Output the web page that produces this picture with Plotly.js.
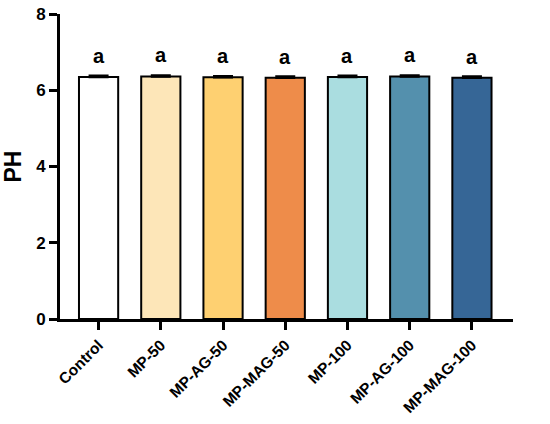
<!DOCTYPE html>
<html><head><meta charset="utf-8">
<script src="https://cdn.plot.ly/plotly-3.0.1.min.js"></script>
<style>html,body{margin:0;padding:0;background:#fff}#c{width:550px;height:424px}</style>
</head><body><div id="c"></div>
<script>
const categories = ["Control","MP-50","MP-AG-50","MP-MAG-50","MP-100","MP-AG-100","MP-MAG-100"];
const phValues = [6.35, 6.36, 6.34, 6.33, 6.35, 6.36, 6.33];
const phErrors = [0.03, 0.03, 0.03, 0.03, 0.03, 0.03, 0.03];
const sigLetters = ["a","a","a","a","a","a","a"];
const yTicks = [0, 2, 4, 6, 8];
const barColors = ["#FFFFFF","#FDE6B8","#FED071","#EE8C4A","#AADDE0","#5490AD","#366696"];

const font = "Liberation Sans, Arial, sans-serif";
const trace = {
  type: "bar", x: categories, y: phValues,
  marker: {color: barColors, line: {color: "#000", width: 2}},
  width: 0.63,
  error_y: {type: "data", array: phErrors, visible: true, color: "#000", thickness: 2.5, width: 10, symmetric: false, arrayminus: phErrors.map(()=>0)},
  hoverinfo: "skip"
};
const annotations = categories.map((c,i)=>({
  x: c, y: phValues[i] + phErrors[i], text: "<b>"+sigLetters[i]+"</b>", showarrow: false,
  yanchor: "bottom", yshift: 7, font: {family: font, size: 20, color: "#000"}
}));
const layout = {
  width: 550, height: 424,
  margin: {l: 60, r: 37, t: 14, b: 105},
  paper_bgcolor: "#fff", plot_bgcolor: "#fff",
  showlegend: false,
  xaxis: {
    type: "category", range: [-0.62, 6.66],
    showline: true, linecolor: "#000", linewidth: 3,
    ticks: "outside", ticklen: 8, tickwidth: 3, tickcolor: "#000",
    tickangle: -45, tickfont: {family: font, size: 15.5, color: "#000", weight: "bold"},
    showgrid: false, zeroline: false, fixedrange: true
  },
  yaxis: {
    range: [0, 8], tickvals: yTicks, ticktext: yTicks.map(String),
    showline: true, linecolor: "#000", linewidth: 3,
    ticks: "outside", ticklen: 8, tickwidth: 3, tickcolor: "#000",
    tickfont: {family: font, size: 17, color: "#000", weight: "bold"},
    showgrid: false, zeroline: false,
    title: {text: "<b>PH</b>", font: {family: font, size: 23, color: "#000"}, standoff: 14}
  },
  annotations: annotations
};
Plotly.newPlot("c", [trace], layout, {staticPlot: true, displayModeBar: false});
</script></body></html>
